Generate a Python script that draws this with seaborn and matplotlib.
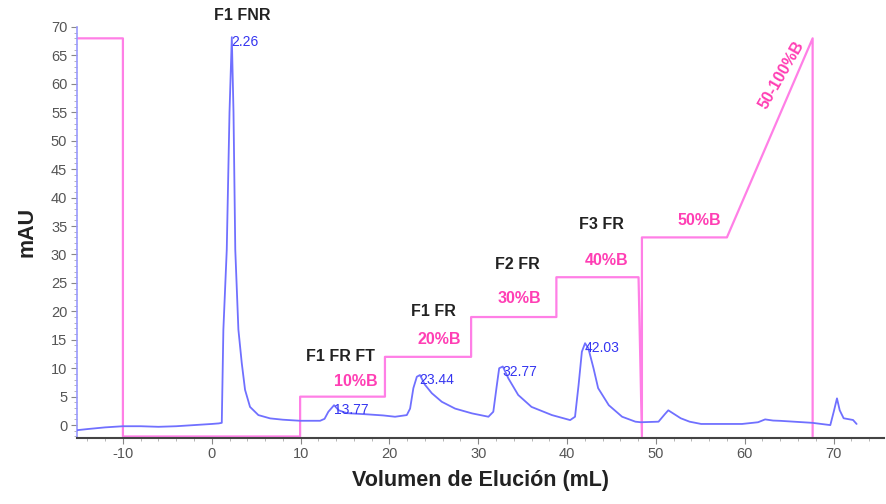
import matplotlib
matplotlib.use("Agg")
import matplotlib.pyplot as plt
from matplotlib.ticker import MultipleLocator
import seaborn as sns
import pandas as pd

# ---- data ----
trace_x = [-15.2, -14, -12, -10, -8, -6, -4, -2, 0, 0.8, 1.13, 1.31, 1.69, 2.0, 2.26, 2.45, 2.65,
           3.0, 3.38, 3.75, 4.31, 5.25, 6.57, 8.0, 9.94, 12.2, 12.7, 13.13, 13.77, 14.3, 15.2,
           17.4, 19.3, 20.64, 21.96, 22.33, 22.7, 23.09, 23.44, 24.0, 24.78, 25.9, 27.4, 29.3,
           31.15, 31.7, 32.1, 32.36, 32.77, 33.4, 34.5, 36.0, 38.3, 40.35, 40.9, 41.3, 41.67,
           42.03, 42.4, 42.98, 43.5, 44.7, 46.2, 47.7, 48.3, 50.3, 51.0, 51.4, 52.0, 52.8, 53.8,
           55.1, 59.7, 61.5, 62.3, 63.2, 64.0, 67.6, 69.64, 70.05, 70.39, 70.7, 71.14, 72.2, 72.6]
trace_y = [-0.9, -0.7, -0.4, -0.2, -0.2, -0.3, -0.2, 0.0, 0.2, 0.3, 0.4, 16.8, 30.8, 55, 68.2,
           55, 30.8, 16.8, 10.9, 6.2, 3.2, 1.76, 1.18, 0.95, 0.76, 0.76, 1.1, 2.35, 3.5, 2.6, 2.1,
           1.9, 1.7, 1.47, 1.76, 2.9, 6.5, 8.5, 8.8, 7.1, 5.6, 4.1, 2.9, 2.06, 1.47, 2.35, 7.06,
           10.0, 10.3, 8.2, 5.3, 3.2, 1.76, 0.88, 1.47, 7.06, 12.9, 14.4, 13.5, 10.0, 6.5, 3.5,
           1.47, 0.6, 0.5, 0.6, 1.9, 2.6, 2.0, 1.2, 0.6, 0.2, 0.2, 0.5, 1.0, 0.8, 0.75, 0.4, 0.0,
           2.5, 4.7, 2.6, 1.2, 0.9, 0.2]

grad_x = [-15.2, -10.0, -10.0, 9.95, 9.95, 19.5, 19.5, 29.2, 29.2, 38.8, 38.8, 48.05, 48.43,
          48.43, 58.0, 67.65, 67.65]
grad_y = [68, 68, -2, -2, 5, 5, 12, 12, 19, 19, 26, 26, -2, 33, 33, 68, -2]

peak_x = [2.26, 13.77, 23.44, 32.77, 42.03]
peak_y = [68.2, 3.5, 8.8, 10.3, 14.4]

fraction_labels = ["F1 FNR", "F1 FR FT", "F1 FR", "F2 FR", "F3 FR"]
fraction_x = [3.4, 14.5, 25.0, 34.4, 43.85]
fraction_y = [72.0, 12.05, 20.0, 28.2, 35.3]

step_labels = ["10%B", "20%B", "30%B", "40%B", "50%B"]
step_x = [16.25, 25.6, 34.6, 44.4, 54.9]
step_y = [7.64, 15.0, 22.2, 29.0, 36.05]

ramp_label = "50-100%B"
ramp_x = 64.1
ramp_y = 61.6

# ---- styling ----
sns.set_theme(style="ticks")
plt.rcParams['font.family'] = ['Liberation Sans', 'DejaVu Sans']
plt.rcParams['axes.unicode_minus'] = False

TRACE = "#7070ff"
PINK_LINE = "#ff7fe6"
PINK_TEXT = "#ff3fb4"
BLUE_TEXT = "#3535f0"
DARK = "#222222"
GRAY = "#555555"

fig = plt.figure(figsize=(8.86, 5.04), dpi=100)
ax = fig.add_axes([0.0869, 0.1315, 0.911, 0.815])

df_trace = pd.DataFrame({"x": trace_x, "y": trace_y})
df_grad = pd.DataFrame({"x": grad_x, "y": grad_y})

sns.lineplot(data=df_grad, x="x", y="y", sort=False, estimator=None, color=PINK_LINE,
             linewidth=1.6, ax=ax, zorder=2)
sns.lineplot(data=df_trace, x="x", y="y", sort=False, estimator=None, color=TRACE,
             linewidth=1.3, ax=ax, zorder=3)

for px, py in zip(peak_x, peak_y):
    ax.text(px - 0.05, py + 0.3, f"{px:.2f}", color=BLUE_TEXT, fontsize=10,
            ha="left", va="top", zorder=4)

for lab, tx, ty in zip(fraction_labels, fraction_x, fraction_y):
    ax.text(tx, ty, lab, color=DARK, fontsize=11.5, fontweight="bold",
            ha="center", va="center", clip_on=False)

for lab, tx, ty in zip(step_labels, step_x, step_y):
    ax.text(tx, ty, lab, color=PINK_TEXT, fontsize=11.5, fontweight="bold",
            ha="center", va="center")

ax.text(ramp_x, ramp_y, ramp_label, color=PINK_TEXT, fontsize=11.5, fontweight="bold",
        ha="center", va="center", rotation=60, rotation_mode="anchor")

ax.set_xlim(-15.17, 75.7)
ax.set_ylim(-2.22, 70)

ax.xaxis.set_major_locator(MultipleLocator(10))
ax.xaxis.set_minor_locator(MultipleLocator(2))
ax.yaxis.set_major_locator(MultipleLocator(5))
ax.yaxis.set_minor_locator(MultipleLocator(1))

ax.tick_params(axis="both", which="major", direction="out", length=4, width=0.8,
               color="#888888", labelsize=10.5, labelcolor=GRAY, pad=3)
ax.tick_params(axis="both", which="minor", direction="out", length=2, width=0.6,
               color="#aaaaaa")

for s in ["top", "right"]:
    ax.spines[s].set_visible(False)
ax.spines["left"].set_color("#9a9aff")
ax.spines["left"].set_linewidth(1.2)
ax.spines["bottom"].set_color("#444444")
ax.spines["bottom"].set_linewidth(1.5)

ax.set_xlabel("Volumen de Elución (mL)", fontsize=15.5, fontweight="bold", color=DARK,
              labelpad=6)
ax.set_ylabel("mAU", fontsize=15.5, fontweight="bold", color=DARK, labelpad=10)

fig.savefig("out.png", dpi=100)
